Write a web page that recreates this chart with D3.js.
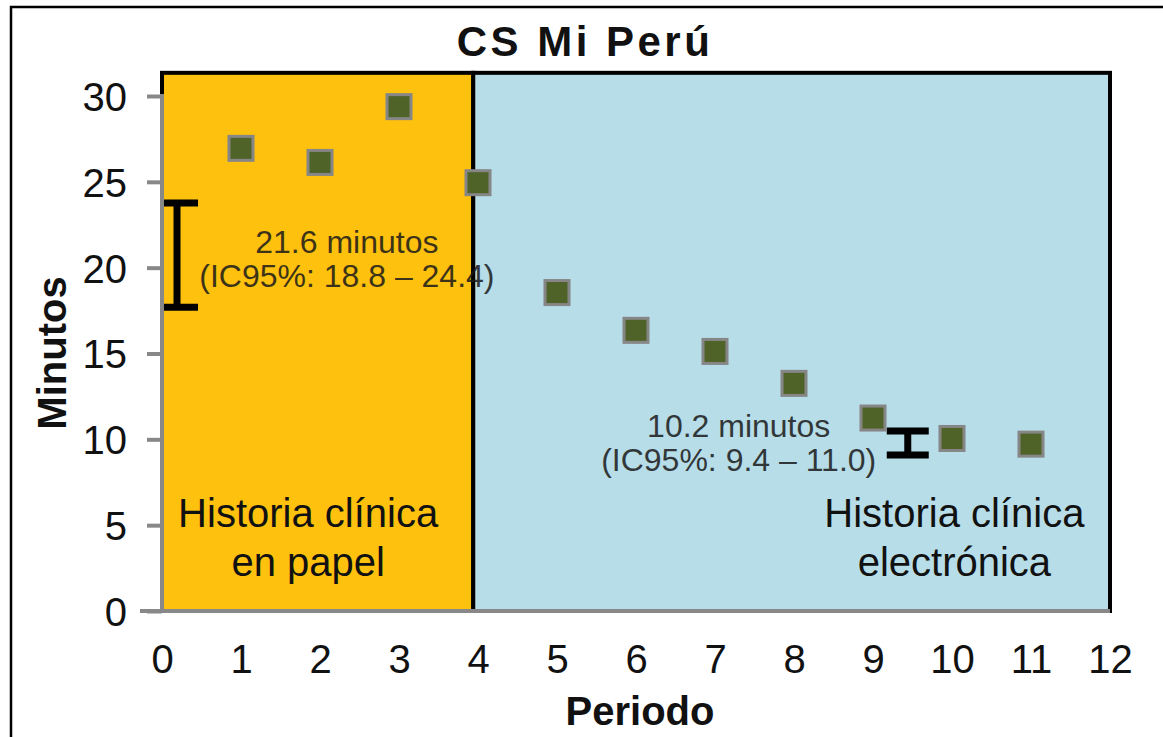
<!DOCTYPE html>
<html>
<head>
<meta charset="utf-8">
<script src="https://cdn.jsdelivr.net/npm/d3@7"></script>
<style>
  body { margin: 0; background: #fff; }
  svg { font-family: "Liberation Sans", Arial, sans-serif; }
</style>
</head>
<body>
<div id="drawing"></div>
<script>
var width = 1163;
var height = 737;

// data
var periods = [1, 2, 3, 4, 5, 6, 7, 8, 9, 10, 11];
var minutes = [26.95, 26.13, 29.38, 24.95, 18.55, 16.35, 15.12, 13.26, 11.24, 10.05, 9.72];
var xTicks = [0, 1, 2, 3, 4, 5, 6, 7, 8, 9, 10, 11, 12];
var yTicks = [0, 5, 10, 15, 20, 25, 30];
var regionStart = [0, 3.94];
var regionEnd = [3.94, 12];
var regionTop = 31.35;
var errX = [0.19, 9.44];
var errLow = [17.7, 9.09];
var errHigh = [23.77, 10.48];
var errLabel1 = ["21.6 minutos", "10.2 minutos"];
var errLabel2 = ["(IC95%: 18.8 – 24.4)", "(IC95%: 9.4 – 11.0)"];
var errLabelX = [2.34, 7.3];
var errLabelY = [20.85, 10.14];
var regionLabel1 = ["Historia clínica", "Historia clínica"];
var regionLabel2 = ["en papel", "electrónica"];
var regionLabelX = [1.85, 10.03];
var regionLabelY = 4.89;

var regionColors = ["#fec10e", "#b7dde8"];

var svg = d3.select("#drawing").append("svg")
  .attr("width", width)
  .attr("height", height);

// outer frame
svg.append("rect")
  .attr("x", 11).attr("y", 7)
  .attr("width", width + 20).attr("height", height + 20)
  .attr("fill", "#fff")
  .attr("stroke", "#000")
  .attr("stroke-width", 2.5);

var xScale = d3.scaleLinear().domain([0, 12]).range([162, 1110]);
var yScale = d3.scaleLinear().domain([0, 30]).range([611, 96]);

// background regions
svg.selectAll(".region")
  .data(regionStart)
  .enter().append("rect")
  .attr("class", "region")
  .attr("x", (d) => xScale(d))
  .attr("y", yScale(regionTop))
  .attr("width", (d, i) => xScale(regionEnd[i]) - xScale(d))
  .attr("height", yScale(0) - yScale(regionTop))
  .attr("fill", (d, i) => regionColors[i])
  .attr("stroke", "#000")
  .attr("stroke-width", 4);

// region labels
var regLab = svg.selectAll(".regLab")
  .data(regionLabelX)
  .enter().append("text")
  .attr("class", "regLab")
  .attr("text-anchor", "middle")
  .attr("font-size", 40)
  .attr("fill", "#111");
regLab.append("tspan")
  .attr("x", (d) => xScale(d))
  .attr("y", yScale(regionLabelY))
  .text((d, i) => regionLabel1[i]);
regLab.append("tspan")
  .attr("x", (d) => xScale(d))
  .attr("dy", 49)
  .text((d, i) => regionLabel2[i]);

// y axis
var yAxis = svg.append("g")
  .attr("transform", `translate(${xScale(0)},0)`)
  .call(d3.axisLeft(yScale).tickValues(yTicks).tickSize(15).tickPadding(20));
yAxis.select(".domain").remove();
yAxis.selectAll(".tick line").attr("stroke", "#888").attr("stroke-width", 4);
yAxis.selectAll(".tick text")
  .attr("font-size", 40)
  .attr("font-family", "Liberation Sans, Arial, sans-serif")
  .attr("fill", "#111")
  .attr("dy", "0.36em");
yAxis.append("line")
  .attr("y1", yScale(30) - 2).attr("y2", yScale(0) + 2)
  .attr("stroke", "#888").attr("stroke-width", 4);

// x axis
var xAxis = svg.append("g")
  .attr("transform", `translate(0,${yScale(0)})`)
  .call(d3.axisBottom(xScale).tickValues(xTicks).tickSize(0).tickPadding(34));
xAxis.select(".domain").remove();
xAxis.selectAll(".tick text")
  .attr("font-size", 40)
  .attr("font-family", "Liberation Sans, Arial, sans-serif")
  .attr("fill", "#111");
xAxis.append("line")
  .attr("x1", xScale(0) - 22).attr("x2", xScale(12))
  .attr("stroke", "#888").attr("stroke-width", 4);

// error bars
svg.append("clipPath").attr("id", "plotClip")
  .append("rect")
  .attr("x", xScale(0) + 2).attr("y", 0)
  .attr("width", xScale(12) - xScale(0)).attr("height", yScale(0));
var err = svg.append("g").attr("clip-path", "url(#plotClip)")
  .selectAll(".err")
  .data(errX)
  .enter().append("g")
  .attr("class", "err");
err.append("line")
  .attr("x1", (d) => xScale(d)).attr("x2", (d) => xScale(d))
  .attr("y1", (d, i) => yScale(errLow[i])).attr("y2", (d, i) => yScale(errHigh[i]))
  .attr("stroke", "#000").attr("stroke-width", 7);
err.append("line")
  .attr("x1", (d) => xScale(d) - 21).attr("x2", (d) => xScale(d) + 21)
  .attr("y1", (d, i) => yScale(errLow[i])).attr("y2", (d, i) => yScale(errLow[i]))
  .attr("stroke", "#000").attr("stroke-width", 7);
err.append("line")
  .attr("x1", (d) => xScale(d) - 21).attr("x2", (d) => xScale(d) + 21)
  .attr("y1", (d, i) => yScale(errHigh[i])).attr("y2", (d, i) => yScale(errHigh[i]))
  .attr("stroke", "#000").attr("stroke-width", 7);

// error bar labels
var errLab = svg.selectAll(".errLab")
  .data(errLabelX)
  .enter().append("text")
  .attr("class", "errLab")
  .attr("text-anchor", "middle")
  .attr("font-size", 32)
  .attr("fill", "#1a1a1a")
  .attr("opacity", 0.85);
errLab.append("tspan")
  .attr("x", (d) => xScale(d))
  .attr("y", (d, i) => yScale(errLabelY[i]))
  .text((d, i) => errLabel1[i]);
errLab.append("tspan")
  .attr("x", (d) => xScale(d))
  .attr("dy", 34)
  .text((d, i) => errLabel2[i]);

// points
var size = 24;
svg.selectAll(".pt")
  .data(periods)
  .enter().append("rect")
  .attr("class", "pt")
  .attr("x", (d) => xScale(d) - size / 2)
  .attr("y", (d, i) => yScale(minutes[i]) - size / 2)
  .attr("width", size)
  .attr("height", size)
  .attr("fill", "#4f6228")
  .attr("stroke", "#868686")
  .attr("stroke-width", 3);

// title and axis labels
svg.append("text")
  .attr("x", 585).attr("y", 56)
  .attr("text-anchor", "middle")
  .attr("font-size", 42)
  .attr("font-weight", "bold")
  .attr("letter-spacing", 3.5)
  .attr("fill", "#111")
  .text("CS Mi Perú");

svg.append("text")
  .attr("transform", "translate(66,353) rotate(-90)")
  .attr("text-anchor", "middle")
  .attr("font-size", 40)
  .attr("font-weight", "bold")
  .attr("fill", "#111")
  .text("Minutos");

svg.append("text")
  .attr("x", 640).attr("y", 725)
  .attr("text-anchor", "middle")
  .attr("font-size", 40)
  .attr("font-weight", "bold")
  .attr("fill", "#111")
  .text("Periodo");
</script>
</body>
</html>
